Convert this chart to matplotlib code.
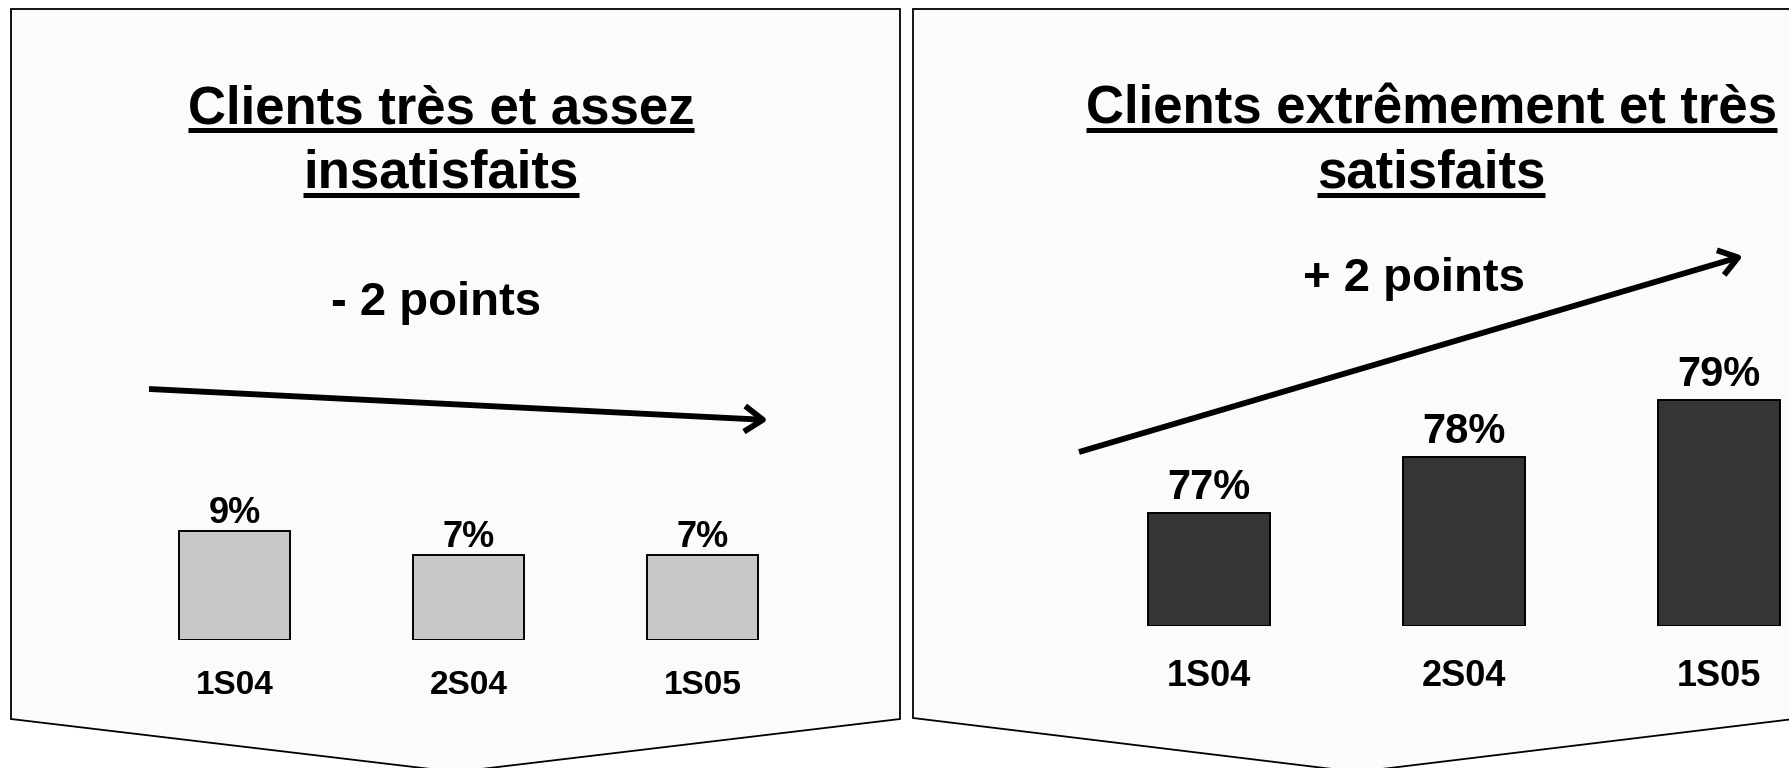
import matplotlib
matplotlib.use('Agg')
import numpy as np
import matplotlib.pyplot as plt
from matplotlib.patches import Polygon

# --- Data ---
periods = ['1S04', '2S04', '1S05']
insatisfaits = [9, 7, 7]
satisfaits = [77, 78, 79]
left_title = ['Clients très et assez', 'insatisfaits']
right_title = ['Clients extrêmement et très', 'satisfaits']
left_delta = '- 2 points'
right_delta = '+ 2 points'

W, H, DPI = 1789, 768, 100
plt.rcParams['font.family'] = ['Liberation Sans', 'DejaVu Sans']
plt.rcParams['font.weight'] = 'bold'

fig = plt.figure(figsize=(W / DPI, H / DPI), dpi=DPI)
fig.patch.set_facecolor('white')

# background axes in pixel units (y going down) for the panels and captions
bg = fig.add_axes([0, 0, 1, 1])
bg.set_xlim(0, W)
bg.set_ylim(H, 0)
bg.axis('off')

panel_left = [(11, 9), (900, 9), (900, 719), (456, 772), (11, 719)]
panel_right = [(913, 9), (1802, 9), (1802, 718), (1357, 772), (913, 718)]
for pts in (panel_left, panel_right):
    bg.add_patch(Polygon(pts, closed=True, facecolor='#fbfbfb',
                         edgecolor='black', lw=1.3, zorder=0))

# titles (underlined afterwards)
title_texts = []
for lines, cx in ((left_title, 441), (right_title, 1431)):
    for line, base in zip(lines, (123, 188)):
        t = bg.text(cx, base, line, ha='center', va='baseline',
                    fontsize=38, fontweight='bold', color='black')
        title_texts.append((t, base + 7))

bg.text(436, 315, left_delta, ha='center', va='baseline', fontsize=34, fontweight='bold')
bg.text(1414, 291, right_delta, ha='center', va='baseline', fontsize=34, fontweight='bold')

arrow_style = dict(arrowstyle='->,head_length=0.6,head_width=0.42',
                   lw=4.2, color='black', mutation_scale=22,
                   shrinkA=0, shrinkB=0, capstyle='butt')
bg.annotate('', xy=(768, 420), xytext=(149, 389), arrowprops=arrow_style)
bg.annotate('', xy=(1743, 256), xytext=(1079, 452), arrowprops=arrow_style)


def px_axes(x0, x1, ytop, ybot):
    ax = fig.add_axes([x0 / W, 1 - ybot / H, (x1 - x0) / W, (ybot - ytop) / H])
    ax.set_xlim(-0.5, 2.5)
    ax.axis('off')
    return ax


# --- Left bars ---
axL = px_axes(117.5, 819.5, 519, 640)
axL.set_ylim(0, 10)
x = np.arange(len(periods))
axL.bar(x, insatisfaits, width=0.474, color='#c8c8c8', edgecolor='black', lw=1.4)
for i, v in enumerate(insatisfaits):
    axL.annotate(f'{v}%', (i, v), xytext=(0, 6), textcoords='offset points',
                 ha='center', va='baseline', fontsize=26, fontweight='bold',
                 annotation_clip=False)
    axL.annotate(periods[i], (i, 0), xytext=(0, -39), textcoords='offset points',
                 ha='center', va='baseline', fontsize=24, fontweight='bold',
                 annotation_clip=False)

# --- Right bars ---
base_r = 75
axR = px_axes(1081.5, 1846.5, 343.5, 626)
axR.set_ylim(base_r, 80)
axR.bar(x, np.array(satisfaits) - base_r, bottom=base_r, width=0.478,
        color='#353535', edgecolor='black', lw=1.4)
for i, v in enumerate(satisfaits):
    axR.annotate(f'{v}%', (i, v), xytext=(0, 10), textcoords='offset points',
                 ha='center', va='baseline', fontsize=30, fontweight='bold',
                 annotation_clip=False)
    axR.annotate(periods[i], (i, base_r), xytext=(0, -43), textcoords='offset points',
                 ha='center', va='baseline', fontsize=26, fontweight='bold',
                 annotation_clip=False)

# underline the titles using the rendered text extents
fig.canvas.draw()
for t, uy in title_texts:
    bb = t.get_window_extent()
    bg.plot([bb.x0, bb.x1], [uy, uy], color='black', lw=3.6, solid_capstyle='butt')

fig.savefig('out.png', dpi=DPI)
